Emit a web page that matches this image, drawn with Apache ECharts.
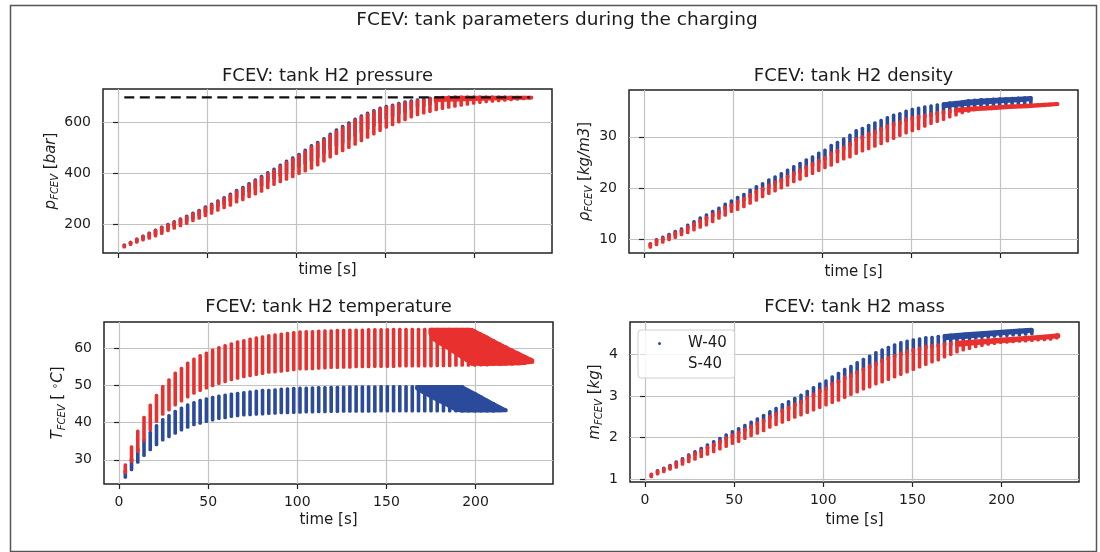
<!DOCTYPE html>
<html><head><meta charset="utf-8">
<script src="https://cdn.jsdelivr.net/npm/echarts@6/dist/echarts.min.js"></script>
<style>html,body{margin:0;padding:0;background:#fff}#c{width:1100px;height:552px}</style>
</head><body><div id="c"></div>
<script>
// ---------------- DATA ----------------
const timeSteps = [3.5,7,10.5,14,17.5,21,24.5,28,31.5,35,38.5,42,45.5,49,52.5,56,59.5,63,66.5,70,
  73.5,77,80.5,84,87.5,91,94.5,98,101.5,105,108.5,112,115.5,119,122.5,126,129.5,133,136.5,140,
  143.5,147,150.5,154,157.5,161,164.5,168,171.5,175,178.5,182,185.5,189,192.5,196,199.5,203,206.5,210,
  213.5,217,220.5,224,227.5,231];
const xTicks = [0, 50, 100, 150, 200];

// pressure [bar]
const pressureTicks = [200, 400, 600];
const pressureW40Hi = [117,128,140,152,164,176,188,199,209,220, 231,243,254,268,279,291,304,318,333,345,
  359,374,388,403,417,432,448,461,475,492, 509,522,537,555,571,585,599,614,627,638,
  647,657,664,669,676,682,686,690,693,697, 699,700,701,701,701,701,701,701,701,701, 701,701];
const pressureW40Lo = [112,123,133,143,151,161,172,183,193,204, 214,226,237,248,259,271,282,293,307,317,
  330,342,353,368,382,394,405,416,429,440, 452,466,482,498,512,523,537,550,564,577,
  590,604,617,627,638,645,655,663,669,675, 681,685,689,692,694,696,697,698,698,699, 699,700];
const pressureS40Hi = [117,128,140,151,163,175,187,197,207,218, 228,240,251,264,275,287,300,313,328,340,
  354,369,382,397,411,426,442,455,469,486, 503,516,531,549,565,579,593,609,622,633,
  642,653,660,665,672,678,682,686,690,694, 697,699,700,700,700,700,700,700,700,700, 700,700,700,700,700,700];
const pressureS40Lo = [110,120,129,138,145,154,164,175,184,194, 203,214,224,234,244,255,265,275,288,297,
  309,320,330,344,357,368,378,388,400,410, 421,434,450,466,479,490,503,516,530,543,
  556,570,583,593,604,612,623,632,639,645, 652,657,662,666,670,674,678,681,683,685, 687,689,691,693,695,697];
const pressureS40BandT  = [178, 190, 200, 210, 220, 232];
const pressureS40BandHi = [697, 700, 700, 700, 700, 700];
const pressureS40BandLo = [688, 690, 692, 694, 696, 698];
const pressureLimitT = [3.5, 231];
const pressureLimit  = [700, 700];

// density [kg/m3]
const densityTicks = [10, 20, 30];
const densityW40Hi = [9.1,10.0,10.45,11.0,11.6,12.1,12.8,13.5,14.2,14.8, 15.5,16.1,16.9,17.5,18.2,18.8,19.6,20.3,20.9,21.6,
  22.2,22.8,23.5,24.2,24.8,25.5,26.1,26.8,27.4,28.3, 28.9,29.6,30.3,31.2,31.6,32.2,32.7,33.2,33.7,34.2,
  34.5,35.0,35.3,35.55,35.8,36.0,36.2,36.4,36.6,36.7, 36.8,37.0,37.1,37.2,37.2,37.3,37.35,37.4,37.45,37.5, 37.55,37.6];
const densityW40Lo = [8.9,9.6,10.0,10.5,11.05,11.5,12.15,12.8,13.45,14.0, 14.65,15.2,15.95,16.5,17.15,17.7,18.45,19.1,19.65,20.3,
  20.85,21.4,22.05,22.7,23.25,23.9,24.45,25.1,25.65,26.5, 27.05,27.7,28.4,29.3,29.7,30.3,30.8,31.3,31.8,32.3,
  32.6,33.1,33.4,33.7,33.9,34.2,34.4,34.6,34.8,35.0, 35.6,35.8,36.0,36.1,36.2,36.3,36.35,36.4,36.45,36.5, 36.55,36.6];
const densityS40Hi = [9.2,9.9,10.3,10.8,11.35,11.8,12.45,13.1,13.75,14.3, 14.95,15.5,16.25,16.8,17.45,18.0,18.75,19.4,19.95,20.6,
  21.15,21.7,22.35,23.0,23.55,24.2,24.75,25.4,25.95,26.8, 27.35,28.0,28.7,29.6,30.0,30.6,31.1,31.6,32.1,32.6,
  32.9,33.4,33.7,34.0,34.2,34.5,34.7,34.9,35.1,35.3, 35.4,35.5,35.6,35.65,35.7,35.8,35.85,35.9,36.0,36.05, 36.1,36.15,36.2,36.3,36.35,36.45];
const densityS40Lo = [8.58,9.03,9.55,10.0,10.45,11.0,11.4,11.9,12.45,12.9, 13.5,14.2,14.8,15.5,15.9,16.45,17.1,17.7,18.4,19.0,
  19.5,20.1,20.6,21.3,21.8,22.45,22.9,23.5,24.0,24.5, 25.2,25.7,26.1,26.8,27.3,27.7,28.2,28.7,29.2,29.7,
  30.3,30.8,31.2,31.6,32.1,32.6,33.0,33.4,33.9,34.3, 34.7,35.0,35.3,35.5,35.6,35.7,35.8,35.85,35.9,35.95, 36.0,36.05,36.1,36.15,36.2,36.3];
const densityW40BandT  = [168, 180, 190, 200, 210, 217];
const densityW40BandHi = [36.4, 36.85, 37.1, 37.3, 37.45, 37.6];
const densityW40BandLo = [35.9, 36.3, 36.6, 36.85, 37.05, 37.25];
const densityS40BandT  = [175, 185, 195, 205, 215, 225, 232];
const densityS40BandHi = [35.3, 35.55, 35.75, 35.95, 36.1, 36.3, 36.45];
const densityS40BandLo = [35.0, 35.3, 35.5, 35.75, 35.9, 36.1, 36.3];

// temperature [°C]
const tempTicks = [30, 40, 50, 60];
const tempW40Hi = [26.95,30.1,32.8,35.3,37.4,39.2,40.8,41.9,43.0,43.9, 44.8,45.4,46.0,46.4,46.8,47.1,47.4,47.7,47.9,48.1,
  48.3,48.5,48.65,48.7,48.8,49.0,49.1,49.2,49.25,49.3, 49.35,49.4,49.45,49.5,49.5,49.55,49.6,49.6,49.6,49.65,
  49.65,49.7,49.7,49.7,49.7,49.7,49.7,49.7,49.7,49.7, 49.7,49.7,49.7,49.7,49.7,48.7,47.8,46.9,46.0,45.1, 44.2,43.4];
const tempW40Lo = [25.35,27.4,29.4,31.2,32.8,34.1,35.4,36.3,37.2,38.1, 38.8,39.5,39.9,40.4,40.8,41.2,41.4,41.7,41.9,42.1,
  42.2,42.3,42.4,42.5,42.6,42.7,42.75,42.8,42.85,42.9, 42.95,43.0,43.0,43.05,43.05,43.1,43.1,43.1,43.15,43.15,
  43.15,43.2,43.2,43.2,43.2,43.2,43.2,43.2,43.2,43.2, 43.2,43.2,43.2,43.2,43.2,43.2,43.2,43.2,43.2,43.2, 43.25,43.3];
const tempS40Hi = [28.6,33.5,37.7,41.4,44.7,47.3,49.7,51.5,53.3,54.6, 56.0,57.1,58.0,58.7,59.5,60.2,60.7,61.2,61.7,62.1,
  62.5,62.8,63.1,63.4,63.6,63.8,64.0,64.2,64.4,64.5, 64.5,64.6,64.7,64.7,64.8,64.8,64.9,64.9,64.9,65.0,
  65.0,65.0,65.0,65.1,65.1,65.1,65.1,65.1,65.1,65.1, 65.1,65.1,65.1,65.1,65.1,65.1,64.7,63.8,63.0,62.1, 61.2,60.4,59.5,58.7,57.8,57.0];
const tempS40Lo = [26.6,29.6,32.3,35.3,38.1,40.4,42.3,43.5,44.8,45.9, 47.0,48.0,48.7,49.4,50.0,50.6,51.1,51.6,52.0,52.4,
  52.7,53.0,53.3,53.6,53.7,53.9,54.1,54.3,54.5,54.5, 54.6,54.7,54.8,54.9,54.9,55.0,55.0,55.1,55.1,55.1,
  55.2,55.2,55.2,55.2,55.3,55.3,55.3,55.3,55.3,55.3, 55.4,55.4,55.4,55.5,55.5,55.5,55.5,55.6,55.6,55.7, 55.7,55.8,55.8,55.9,56.0,56.4];
const tempW40BandT  = [167, 170, 175, 180, 185, 189, 192.3, 200, 210, 216.5];
const tempW40BandHi = [49.7, 49.7, 49.7, 49.7, 49.7, 49.7, 49.7, 47.7, 45.1, 43.5];
const tempW40BandLo = [49.2, 48.3, 47.0, 45.7, 44.5, 43.4, 43.2, 43.2, 43.2, 43.3];
const tempS40BandT  = [174.5, 176, 180, 185, 190, 195, 198, 205, 215, 225, 232];
const tempS40BandHi = [65.1, 65.1, 65.1, 65.1, 65.1, 65.1, 65.0, 63.3, 60.8, 58.4, 56.8];
const tempS40BandLo = [64.0, 62.6, 61.3, 59.9, 58.3, 56.8, 55.8, 55.7, 55.8, 55.9, 56.3];

// mass [kg]
const massTicks = [1, 2, 3, 4];
const massW40Hi = [1.1,1.2,1.26,1.33,1.41,1.49,1.58,1.66,1.74,1.82, 1.9,1.98,2.06,2.14,2.21,2.29,2.37,2.45,2.53,2.62,
  2.7,2.79,2.86,2.94,3.02,3.11,3.2,3.29,3.36,3.46, 3.54,3.64,3.71,3.8,3.88,3.96,4.04,4.11,4.17,4.23,
  4.28,4.32,4.35,4.37,4.4,4.41,4.43,4.45,4.46,4.47, 4.48,4.49,4.5,4.51,4.52,4.53,4.54,4.55,4.56,4.57, 4.58,4.59];
const massW40Lo = [1.08,1.16,1.22,1.28,1.36,1.43,1.52,1.59,1.66,1.74, 1.81,1.89,1.96,2.03,2.1,2.17,2.24,2.32,2.39,2.48,
  2.55,2.63,2.7,2.77,2.84,2.93,3.01,3.1,3.16,3.27, 3.33,3.42,3.48,3.55,3.62,3.69,3.76,3.83,3.89,3.94,
  4.0,4.05,4.09,4.12,4.16,4.18,4.2,4.23,4.24,4.26, 4.36,4.38,4.4,4.41,4.42,4.44,4.45,4.46,4.47,4.48, 4.49,4.5];
const massS40Hi = [1.12,1.19,1.25,1.31,1.39,1.46,1.55,1.62,1.69,1.77, 1.84,1.92,1.99,2.06,2.13,2.2,2.27,2.35,2.42,2.51,
  2.58,2.66,2.73,2.8,2.87,2.96,3.04,3.13,3.19,3.3, 3.36,3.45,3.51,3.58,3.65,3.72,3.79,3.86,3.92,3.97,
  4.03,4.08,4.12,4.15,4.19,4.21,4.23,4.26,4.27,4.29, 4.3,4.31,4.32,4.33,4.34,4.35,4.36,4.37,4.38,4.39, 4.4,4.41,4.42,4.43,4.45,4.47];
const massS40Lo = [1.06,1.13,1.18,1.24,1.29,1.36,1.42,1.48,1.54,1.6, 1.66,1.73,1.79,1.86,1.91,1.98,2.05,2.11,2.17,2.25,
  2.31,2.37,2.43,2.49,2.55,2.61,2.67,2.73,2.79,2.85, 2.9,2.97,3.04,3.1,3.17,3.22,3.29,3.34,3.4,3.46,
  3.52,3.58,3.64,3.7,3.76,3.82,3.87,3.94,4.0,4.06, 4.11,4.15,4.19,4.22,4.25,4.27,4.29,4.3,4.31,4.32, 4.33,4.34,4.35,4.36,4.37,4.4];
const massW40BandT  = [168, 180, 190, 200, 210, 217];
const massW40BandHi = [4.45, 4.49, 4.52, 4.55, 4.58, 4.6];
const massW40BandLo = [4.38, 4.42, 4.46, 4.5, 4.53, 4.56];
const massS40BandT  = [175, 185, 195, 205, 215, 225, 232];
const massS40BandHi = [4.29, 4.32, 4.35, 4.38, 4.41, 4.44, 4.47];
const massS40BandLo = [4.22, 4.26, 4.3, 4.33, 4.37, 4.4, 4.43];

const seriesNames = ['W-40', 'S-40'];

// ---------------- STYLE / LAYOUT ----------------
const BLUE = '#2b4a9c', RED = '#e8312f', INK = '#1c1c1c';
const FONT = 'DejaVu Sans';
const X_MIN = -8.45, X_MAX = 243.45;
const STREAK_W = 3.6;

function streakData(lo, hi) { return lo.map((v, i) => [timeSteps[i], v, hi[i]]); }
function bandData(T, lo, hi) {
  const d = [];
  for (let i = 0; i < T.length - 1; i++) d.push([T[i], lo[i], hi[i], T[i + 1], lo[i + 1], hi[i + 1]]);
  return d;
}
function streakRender(color) {
  return function (params, api) {
    const a = api.coord([api.value(0), api.value(2)]);
    const b = api.coord([api.value(0), api.value(1)]);
    return { type: 'rect', shape: { x: a[0] - STREAK_W / 2, y: a[1] - 1.7, width: STREAK_W, height: (b[1] - a[1]) + 3.4, r: 1.5 },
      style: { fill: color } };
  };
}
function bandRender(color) {
  return function (params, api) {
    const pts = [api.coord([api.value(0), api.value(2)]), api.coord([api.value(3), api.value(5)]),
                 api.coord([api.value(3), api.value(4)]), api.coord([api.value(0), api.value(1)])];
    return { type: 'polygon', shape: { points: pts },
      style: { fill: color, stroke: color, lineWidth: 3.4, lineJoin: 'round' } };
  };
}
function streakSeries(gi, name, color, lo, hi) {
  return { type: 'custom', name: name, xAxisIndex: gi, yAxisIndex: gi, coordinateSystem: 'cartesian2d',
    renderItem: streakRender(color), itemStyle: { color: color }, encode: { x: 0, y: [1, 2] },
    data: streakData(lo, hi), silent: true, animation: false };
}
function bandSeries(gi, name, color, T, lo, hi) {
  return { type: 'custom', name: name, xAxisIndex: gi, yAxisIndex: gi, coordinateSystem: 'cartesian2d',
    renderItem: bandRender(color), itemStyle: { color: color }, encode: { x: [0, 3], y: [1, 2, 4, 5] },
    data: bandData(T, lo, hi), silent: true, animation: false };
}

const panels = [
  { grid: { left: 103, top: 89, width: 449, height: 164 }, yMin: 86, yMax: 733, ticks: pressureTicks,
    yName: '{i|p}{s|FCEV} [{i|bar}]', yGap: 43, xLabels: false, xGap: 10, title: 'FCEV: tank H2 pressure', titleTop: 67 },
  { grid: { left: 629, top: 90, width: 449, height: 163 }, yMin: 7.4, yMax: 39.1, ticks: densityTicks,
    yName: '{i|ρ}{s|FCEV} [{i|kg/m3}]', yGap: 35, xLabels: false, xGap: 12, title: 'FCEV: tank H2 density', titleTop: 67 },
  { grid: { left: 104, top: 322, width: 449, height: 162 }, yMin: 23.5, yMax: 67.1, ticks: tempTicks,
    yName: '{i|T}{s|FCEV} [ {u|∘}{i|C}]', yGap: 37, xLabels: true, xGap: 29, title: 'FCEV: tank H2 temperature', titleTop: 298.5 },
  { grid: { left: 630, top: 322, width: 449, height: 160 }, yMin: 0.93, yMax: 4.78, ticks: massTicks,
    yName: '{i|m}{s|FCEV} [{i|kg}]', yGap: 26, xLabels: true, xGap: 31, title: 'FCEV: tank H2 mass', titleTop: 298.5 }
];

const option = {
  backgroundColor: '#ffffff',
  animation: false,
  textStyle: { fontFamily: FONT, color: INK },
  title: [{ text: 'FCEV: tank parameters during the charging', left: 557, top: 11, textAlign: 'center', padding: 0,
    textStyle: { fontSize: 18.5, fontWeight: 'normal', color: INK, fontFamily: FONT } }].concat(
    panels.map(p => ({ text: p.title, left: p.grid.left + p.grid.width / 2, top: p.titleTop, textAlign: 'center', padding: 0,
      textStyle: { fontSize: 18, fontWeight: 'normal', color: INK, fontFamily: FONT } }))),
  grid: panels.map(p => Object.assign({ show: true, borderColor: '#222', borderWidth: 1.5, backgroundColor: 'transparent',
    containLabel: false, outerBoundsMode: 'none' }, p.grid)),
  xAxis: panels.map((p, i) => ({
    type: 'value', gridIndex: i, min: X_MIN, max: X_MAX,
    axisLine: { show: false },
    axisTick: { show: true, inside: false, length: 5, customValues: xTicks, lineStyle: { color: '#222', width: 1.2 } },
    axisLabel: { show: p.xLabels, customValues: xTicks, margin: 11, fontSize: 14, color: INK, fontFamily: FONT },
    splitLine: { show: true, lineStyle: { color: '#c2c2c2', width: 1.2 } },
    name: 'time [s]', nameLocation: 'middle', nameGap: p.xGap,
    nameTextStyle: { fontSize: 15, color: INK, fontFamily: FONT }
  })),
  yAxis: panels.map((p, i) => ({
    type: 'value', gridIndex: i, min: p.yMin, max: p.yMax,
    axisLine: { show: false },
    axisTick: { show: true, inside: false, length: 5, customValues: p.ticks, lineStyle: { color: '#222', width: 1.2 } },
    axisLabel: { show: true, customValues: p.ticks, margin: 12, fontSize: 14, color: INK, fontFamily: FONT },
    splitLine: { show: true, lineStyle: { color: '#c2c2c2', width: 1.2 } },
    name: p.yName, nameLocation: 'middle', nameRotate: 90, nameGap: p.yGap,
    nameTextStyle: { fontSize: 15, color: INK, fontFamily: FONT,
      rich: { i: { fontStyle: 'italic', fontSize: 15, color: INK, fontFamily: FONT },
              s: { fontStyle: 'italic', fontSize: 10, color: INK, fontFamily: FONT, padding: [7, 0, 0, 0] },
              u: { fontSize: 10, color: INK, fontFamily: FONT, padding: [0, 0, 7, 0] } } }
  })),
  legend: {
    left: 638, top: 330, orient: 'vertical', selectedMode: false,
    data: [{ name: seriesNames[0], icon: 'circle' }, { name: seriesNames[1], icon: 'circle', itemStyle: { opacity: 0 } }],
    itemWidth: 3, itemHeight: 3, itemGap: 6, padding: [6, 8, 6, 20],
    textStyle: { fontSize: 15, fontFamily: FONT, color: INK, padding: [0, 0, 0, 22] },
    backgroundColor: 'rgba(255,255,255,0.85)', borderColor: '#cfcfcf', borderWidth: 1, borderRadius: 3
  },
  graphic: [{ type: 'rect', left: 8, top: 3, shape: { width: 1086, height: 546 }, silent: true, z: 100,
    style: { fill: 'none', stroke: '#555', lineWidth: 1.5 } }],
  series: [
    streakSeries(0, seriesNames[0], BLUE, pressureW40Lo, pressureW40Hi),
    streakSeries(0, seriesNames[1], RED, pressureS40Lo, pressureS40Hi),
    bandSeries(0, seriesNames[1], RED, pressureS40BandT, pressureS40BandLo, pressureS40BandHi),
    { type: 'line', xAxisIndex: 0, yAxisIndex: 0, data: pressureLimitT.map((t, i) => [t, pressureLimit[i]]),
      symbol: 'none', silent: true, lineStyle: { color: '#111', width: 2.4, type: [10, 5.5] }, z: 5 },

    streakSeries(1, seriesNames[0], BLUE, densityW40Lo, densityW40Hi),
    bandSeries(1, seriesNames[0], BLUE, densityW40BandT, densityW40BandLo, densityW40BandHi),
    streakSeries(1, seriesNames[1], RED, densityS40Lo, densityS40Hi),
    bandSeries(1, seriesNames[1], RED, densityS40BandT, densityS40BandLo, densityS40BandHi),

    streakSeries(2, seriesNames[0], BLUE, tempW40Lo, tempW40Hi),
    bandSeries(2, seriesNames[0], BLUE, tempW40BandT, tempW40BandLo, tempW40BandHi),
    streakSeries(2, seriesNames[1], RED, tempS40Lo, tempS40Hi),
    bandSeries(2, seriesNames[1], RED, tempS40BandT, tempS40BandLo, tempS40BandHi),

    streakSeries(3, seriesNames[0], BLUE, massW40Lo, massW40Hi),
    bandSeries(3, seriesNames[0], BLUE, massW40BandT, massW40BandLo, massW40BandHi),
    streakSeries(3, seriesNames[1], RED, massS40Lo, massS40Hi),
    bandSeries(3, seriesNames[1], RED, massS40BandT, massS40BandLo, massS40BandHi)
  ]
};
const chart = echarts.init(document.getElementById('c'), null, { renderer: 'canvas' });
chart.setOption(option);
</script></body></html>
